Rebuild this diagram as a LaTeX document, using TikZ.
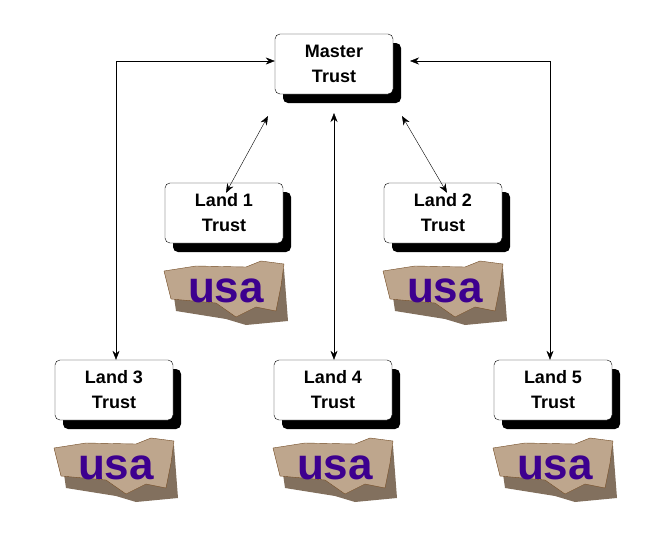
\documentclass[tikz,border=0pt]{standalone}
\usepackage{fontspec}
\setmainfont{Liberation Sans}
\usetikzlibrary{arrows.meta}
\begin{document}
\begin{tikzpicture}[x=1pt,y=-1pt,
 box/.style={draw=black,fill=white,rounded corners=5pt,minimum width=118pt,minimum height=60pt,align=center,font=\bfseries\fontsize{18}{25}\selectfont,text=black},
 shadow/.style={fill=black,rounded corners=5pt},
 arr/.style={{Stealth[length=9pt,width=7pt]}-{Stealth[length=9pt,width=7pt]},thin},
 map/.style={fill=brown!55!gray!70,draw=brown!60!black},
 usa/.style={font=\bfseries\fontsize{44}{44}\selectfont,text=blue!70!red!80!black}]
\useasboundingbox (0,0) rectangle (670,536);
\newcommand\tbox[4]{% name, center x, y, text
 \fill[shadow] (#2-51,#3-21) rectangle (#2+67,#3+39);
 \node[box] (#1) at (#2,#3) {#4};}
\newcommand\usmap[3]{% name, center x, y
 \fill[brown!40!black!70] (#2-55,#3-15) -- (#2+58,#3-22) -- (#2+62,#3+30) -- (#2+20,#3+34) -- (#2,#3+28) -- (#2-50,#3+20) -- cycle;
 \fill[map] (#2-62,#3-20) -- (#2-30,#3-25) -- (#2+20,#3-24) -- (#2+35,#3-30) -- (#2+58,#3-27) -- (#2+55,#3-5) -- (#2+50,#3+20) -- (#2+30,#3+16) -- (#2+10,#3+26) -- (#2-10,#3+12) -- (#2-55,#3+8) -- cycle;
 \node[usa] (#1) at (#2,#3) {usa};}
\tbox{m}{334}{64}{Master\\Trust}
\tbox{l1}{224}{213}{Land 1\\Trust}
\tbox{l2}{443}{213}{Land 2\\Trust}
\tbox{l3}{114}{390}{Land 3\\Trust}
\tbox{l4}{333}{390}{Land 4\\Trust}
\tbox{l5}{553}{390}{Land 5\\Trust}
\usmap{u1}{226}{291}
\usmap{u2}{445}{291}
\usmap{u3}{116}{468}
\usmap{u4}{335}{468}
\usmap{u5}{555}{468}
\coordinate (c1) at (116,61);
\coordinate (c2) at (550,61);
\coordinate (t1) at (268,116);
\coordinate (t2) at (402,116);
\coordinate (t3) at (334,113);
\coordinate (t4) at (410,61);
\draw[arr] (m.west |- c1) -- (c1) -- (c1 |- l3.north);
\draw[arr] (t4) -- (c2) -- (c2 |- l5.north);
\draw[arr] (t3) -- (t3 |- l4.north);
\draw[arr] (t1) -- ([xshift=2pt,yshift=-10pt]l1.north);
\draw[arr] (t2) -- ([xshift=4pt,yshift=-10pt]l2.north);
\end{tikzpicture}
\end{document}
